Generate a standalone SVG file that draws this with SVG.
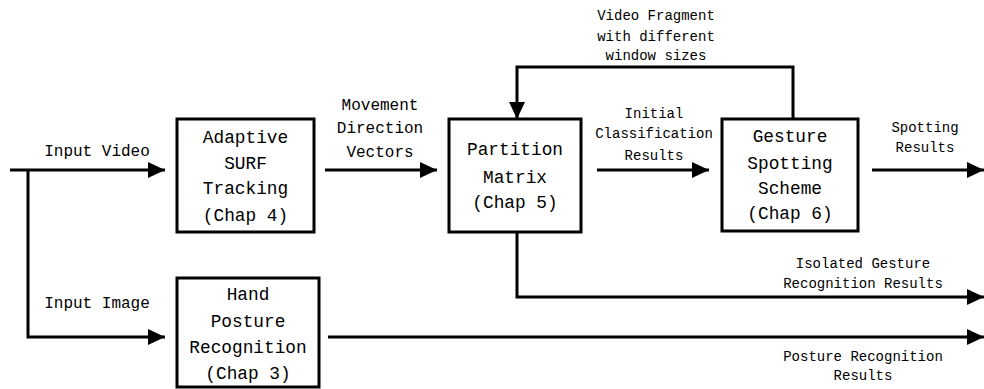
<svg xmlns="http://www.w3.org/2000/svg" width="984" height="389" viewBox="0 0 984 389">
<defs>
<marker id="ah" markerWidth="17" markerHeight="16" refX="17" refY="8" orient="auto" markerUnits="userSpaceOnUse">
<path d="M0,0 L17,8 L0,16 Z" fill="#000"/>
</marker>
<style>
.box{fill:#fff;stroke:#000;stroke-width:3}
.ln{fill:none;stroke:#000;stroke-width:3}
.bt{font-family:"Liberation Mono",monospace;font-size:17.8px;text-anchor:middle;fill:#000}
.lb{font-family:"Liberation Mono",monospace;font-size:14px;text-anchor:middle;fill:#000}
.lg{font-family:"Liberation Mono",monospace;font-size:16px;text-anchor:middle;fill:#000}
</style>
</defs>
<rect width="984" height="389" fill="#fff"/>
<g id="connectors">
<path class="ln" d="M10,170 H165" marker-end="url(#ah)"/>
<path class="ln" d="M28,170 V337 H165" marker-end="url(#ah)"/>
<path class="ln" d="M325,170 H437" marker-end="url(#ah)"/>
<path class="ln" d="M597,170 H709" marker-end="url(#ah)"/>
<path class="ln" d="M872,170 H984" marker-end="url(#ah)"/>
<path class="ln" d="M793,119 V67 H517 V119" marker-end="url(#ah)"/>
<path class="ln" d="M517,232 V297 H984" marker-end="url(#ah)"/>
<path class="ln" d="M328,337 H984" marker-end="url(#ah)"/>
<text class="lg" x="97" y="156">Input Video</text>
<text class="lg" x="97" y="308">Input Image</text>
<text class="lg" x="380" y="110">Movement</text>
<text class="lg" x="380" y="133">Direction</text>
<text class="lg" x="380" y="157">Vectors</text>
<text class="lb" x="654" y="118">Initial</text>
<text class="lb" x="654" y="138">Classification</text>
<text class="lb" x="654" y="160">Results</text>
<text class="lb" x="925" y="132">Spotting</text>
<text class="lb" x="925" y="152">Results</text>
<text class="lb" x="656" y="20">Video Fragment</text>
<text class="lb" x="656" y="41">with different</text>
<text class="lb" x="656" y="60">window sizes</text>
<text class="lb" x="863" y="268">Isolated Gesture</text>
<text class="lb" x="863" y="288">Recognition Results</text>
<text class="lb" x="863" y="361">Posture Recognition</text>
<text class="lb" x="863" y="380">Results</text>
</g>
<g id="node-surf">
<rect class="box" x="177" y="119" width="137" height="113"/>
<text class="bt" x="245.5" y="143">Adaptive</text>
<text class="bt" x="245.5" y="169">SURF</text>
<text class="bt" x="245.5" y="194">Tracking</text>
<text class="bt" x="245.5" y="221">(Chap 4)</text>
</g>
<g id="node-partition">
<rect class="box" x="449" y="119" width="132" height="113"/>
<text class="bt" x="515" y="155">Partition</text>
<text class="bt" x="515" y="183">Matrix</text>
<text class="bt" x="515" y="208">(Chap 5)</text>
</g>
<g id="node-spotting">
<rect class="box" x="722" y="119" width="136" height="112"/>
<text class="bt" x="790" y="142">Gesture</text>
<text class="bt" x="790" y="169">Spotting</text>
<text class="bt" x="790" y="194">Scheme</text>
<text class="bt" x="790" y="219">(Chap 6)</text>
</g>
<g id="node-posture">
<rect class="box" x="177" y="278" width="142" height="109"/>
<text class="bt" x="248" y="300">Hand</text>
<text class="bt" x="248" y="327">Posture</text>
<text class="bt" x="248" y="353">Recognition</text>
<text class="bt" x="248" y="379">(Chap 3)</text>
</g>
</svg>
